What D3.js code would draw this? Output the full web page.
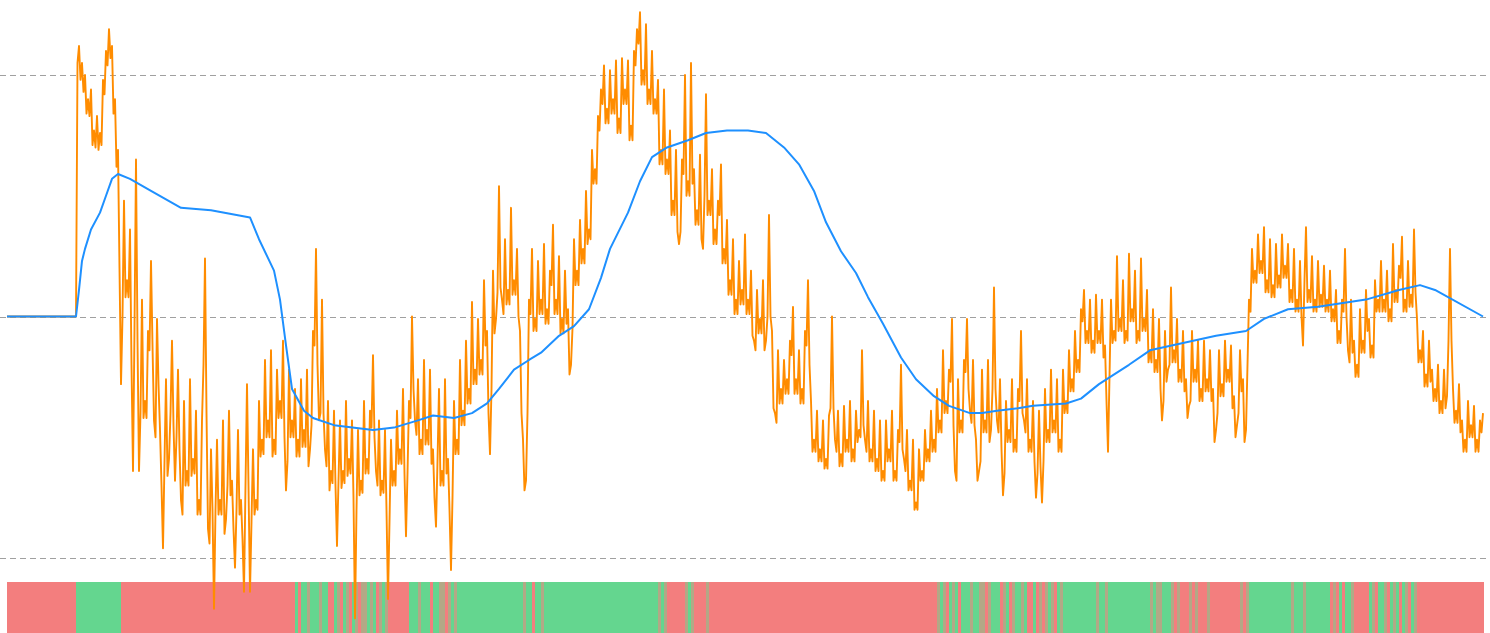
<!DOCTYPE html>
<html><head><meta charset="utf-8">
<script src="https://cdn.jsdelivr.net/npm/d3@7"></script>
<style>body{margin:0;background:#fff}svg{display:block}</style>
</head><body><svg id="c" width="1490" height="633"></svg>
<script>
// orange series: values at whole sample indices
const orange = [
100,100,100,100,100,100,100,100,100,100,100,100,100,100,100,100,100,100,100,100,100,100,100,100,
212,205,200,190,194,177,183,176,198,210,219,212,
190,169,72,148,115,136,36,165,36,107,65,94,123,57,99,53,
4,74,41,90,32,78,24,65,36,74,41,61,24,
57,124,12,45,-21,49,
24,57,16,61,32,-4,53,24,-14,72,-14,45,24,65,
49,82,57,86,49,78,65,90,28,78,57,
70,49,74,53,78,45,94,128,57,
107,45,65,36,61,5,57,36,65,41,57,-25,
53,32,65,41,61,84,36,57,32,53,-17,49,
36,61,45,70,9,65,100,57,74,49,82,53,78,45,
13,70,36,74,41,-5,
65,49,82,61,90,70,106,78,99,
82,115,94,43,119,99,154,
107,132,111,145,115,128,
94,49,32,107,
128,99,123,107,130,103,119,138,107,125,99,119,103,80,
132,119,140,128,152,136,169,161,183,
194,204,186,202,190,206,182,207,194,206,179,
210,219,226,202,221,194,210,
190,198,169,194,
165,177,148,169,130,165,200,156,205,
161,144,167,128,192,148,161,136,
148,163,128,140,115,132,107,123,111,134,107,119,90,111,
99,115,90,142,
94,60,86,70,82,74,90,104,74,86,70,94,115,
65,49,61,45,57,41,59,100,49,61,43,63,49,65,45,61,53,
86,49,65,45,61,41,57,36,57,45,61,36,53,80,41,53,32,49,23,45,36,53,45,61,49,70,
57,86,65,78,99,36,74,57,82,99,61,82,49,36,78,57,82,53,112,57,
74,26,65,53,74,49,70,94,57,74,49,65,25,61,23,70,53,78,57,74,49,78,65,
86,74,94,82,103,
111,94,107,90,109,94,107,88,44,107,94,125,99,115,94,126,103,119,94,124,99,111,86,
103,82,99,57,94,78,112,86,99,78,94,74,63,94,78,90,
70,90,74,86,70,53,86,72,90,78,88,67,55,86,74,53,
107,128,119,134,123,137,115,132,113,130,117,134,121,130,111,128,107,123,
88,137,111,125,107,123,109,121,107,119,103,
111,94,107,128,86,107,90,80,103,90,111,
99,88,115,107,123,107,119,103,130,111,121,133,107,123,109,136,
99,86,94,76,90,78,
70,80,65,78,67,128,70,
61,72,57,49,65,55,63,49,57,60
];

// orange series: values half way between consecutive sample indices
const orangeMid = [
100,100,100,100,100,100,100,100,100,100,100,100,100,100,100,100,100,100,100,100,100,100,100,205,
198,193,184,183,171,170,169,171,192,204,207,184,
162,120,100,108,108,80,95,90,60,58,58,86,88,50,72,30,
40,34,60,55,50,45,18,30,30,34,35,18,18,
80,60,6,20,20,18,
18,10,30,26,12,20,18,8,30,30,15,18,20,42,
43,50,50,42,43,58,58,50,40,50,50,
42,42,46,46,38,55,88,80,60,
60,38,28,31,30,32,29,31,34,35,25,20,
26,27,35,35,54,50,30,26,27,20,15,30,
30,39,39,35,35,58,70,51,43,43,47,47,39,25,
40,30,30,35,20,25,
43,43,55,55,64,64,72,72,76,
76,88,60,70,93,110,112,
101,105,105,109,109,100,
60,28,60,101,
94,94,101,101,97,97,113,101,101,93,93,97,76,95,
113,113,122,122,130,132,155,155,177,
188,180,180,184,184,176,176,188,188,173,173,
204,213,196,196,188,188,184,
184,163,163,159,
159,142,142,135,135,159,150,150,155,
138,138,132,150,142,142,130,130,
142,122,122,109,109,101,101,105,105,101,101,92,86,93,
93,86,100,100,
62,56,64,64,68,68,84,68,68,64,64,88,80,
44,44,40,40,37,37,62,62,44,38,38,44,44,40,40,48,50,
55,44,40,40,36,36,32,32,40,40,32,32,48,45,36,28,28,20,20,32,32,40,40,44,44,52,
52,60,60,73,55,32,52,52,77,70,56,55,32,40,52,52,48,70,70,52,
45,35,48,48,44,44,65,60,52,44,44,40,35,38,40,48,48,52,52,44,44,60,60,
69,69,77,77,98,
89,89,85,85,89,89,83,65,75,89,90,94,94,89,90,98,98,89,90,94,94,81,81,
77,77,70,65,73,80,81,81,73,73,69,58,65,73,73,65,
65,69,69,65,48,60,67,67,73,73,62,50,60,69,48,80,
102,114,114,118,118,110,110,108,108,112,112,116,116,106,106,102,102,100,
115,106,106,102,102,104,104,102,102,98,98,
89,89,102,100,81,85,75,75,85,85,94,
83,83,102,102,102,102,98,98,106,106,116,102,102,104,104,110,
81,81,71,71,73,65,
65,60,60,62,90,90,56,
56,52,44,44,50,50,44,44,52
];

// blue smoothed series: sample index and value
const blueIdx = [0,23,24,25,26,28,31,33,35,37,41,48,58,68,81,84,89,91,93,95,99,102,109,122,129,137,142,149,155,160,164,169,174,178,184,189,194,198,201,207,211,215,220,227,233,240,247,253,259,264,269,273,278,283,287,292,298,303,309,314,321,325,330,337,342,353,358,364,374,381,392,403,413,419,427,437,453,464,471,476,492];
const blueVal = [100,100,111,123,128,136,143,150,157,159,157,152,145,144,141,132,119,107,88,70,61,58,55,53,54,57,59,58,60,64,70,78,82,85,92,96,103,116,128,143,156,166,170,173,176,177,177,176,170,163,152,139,127,118,108,97,83,74,67,63,60,60,61,62,63,64,66,72,80,86,89,92,94,99,103,104,107,111,113,111,100];

const gridValues = [0, 100, 200];

// state per sample interval: R = red, G = green, M = mixed
const bandStates = [
"RRRRRRRRRRRRRRRRRRRRRRR",
"GGGGGGGGGGGGGGG",
"RRRRRRRRRRRRRRRRRRRRRRRRRRRRRRRRRRRRRRRRRRRRRRRRRRRRRRRRRR",
"GRGGMG","GGMGG","RR","GMRGMRG","MRMMGM","GRMGM","RRRRRRR",
"GGGMGGGRGGM","MRMGM",
"GGGGGGGGGGGGGGGGGGGGG",
"GMGGRGGMG",
"GGGGGGGGGGGGGGGGGGGGGGGGGGGGGGGGGGGGG",
"MGMR","RRRRR","MGM",
"RRRR","M",
"RRRRRRRRRRRRRRRRRRRRRRRRRRRRRRRRRRRRRRRRRRRRRRRRRRRRRRRRRRRRRRRRRRRRRRRRRRRR",
"MGMR","GMGRG","GGMGGM","MRMGGG","RMGRMGGMGR","RGRMR","MGMRGMG",
"GGGGGGGGGG","M","GG","M","GGGGGGGGGGGGGG",
"MGMMGGGMRMRRRMRM",
"RRRMRRRRRRRRRR","MRM",
"GGGGGGGGGGGGGGM",
"GGGMGGGGGG",
"GGRMRGRGGM",
"RRRRR",
"GMRGGMRGMGRGMRGM",
"RRRRRRRRRRRRRRRRRRRRRR"
].join("");

const bandColors = {R: "#f37e7e", G: "#64d68f", M: "#b3a886"};

const svg = d3.select("#c");
const x = d3.scaleLinear().domain([0, orange.length - 1]).range([7, 1483]);
const y = d3.scaleLinear().domain([0, 200]).range([558, 75]);

// gridlines
svg.append("g").selectAll("line").data(gridValues).join("line")
  .attr("x1", 0).attr("x2", 1487)
  .attr("y1", d => Math.round(y(d)) + 0.5).attr("y2", d => Math.round(y(d)) + 0.5)
  .attr("stroke", "#a0a0a0").attr("stroke-width", 1).attr("stroke-dasharray", "6,4");

// band
const states = bandStates.split("");
svg.append("g").attr("shape-rendering", "crispEdges").selectAll("rect").data(states).join("rect")
  .attr("x", (d, i) => x(i))
  .attr("width", (d, i) => x(i + 1) - x(i) + 0.6)
  .attr("y", 582).attr("height", 51)
  .attr("fill", d => bandColors[d]);

// orange line (whole and half indices interleaved)
const orangePts = [];
orange.forEach((v, i) => {
  orangePts.push([i, v]);
  if (i < orangeMid.length) orangePts.push([i + 0.5, orangeMid[i]]);
});
svg.append("path").datum(orangePts)
  .attr("fill", "none").attr("stroke", "#ff8c00").attr("stroke-width", 1.9)
  .attr("stroke-linejoin", "round")
  .attr("d", d3.line().x(d => x(d[0])).y(d => y(d[1])));

// blue line
svg.append("path").datum(blueIdx.map((d, i) => [d, blueVal[i]]))
  .attr("fill", "none").attr("stroke", "#1e90ff").attr("stroke-width", 2)
  .attr("stroke-linejoin", "round")
  .attr("d", d3.line().x(d => x(d[0])).y(d => y(d[1])));
</script>
</body></html>
